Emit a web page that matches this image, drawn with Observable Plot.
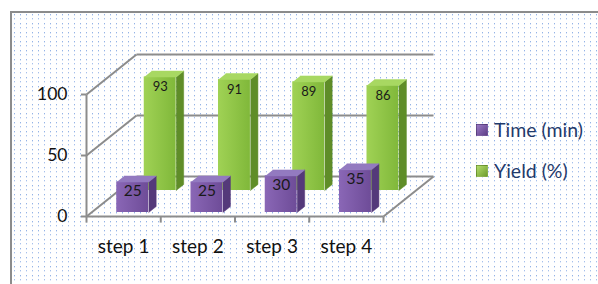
<!DOCTYPE html>
<html>
<head>
<meta charset="utf-8">
<script src="https://cdn.jsdelivr.net/npm/d3@7"></script>
<script src="https://cdn.jsdelivr.net/npm/@observablehq/plot@0.6"></script>
<style>
  html, body { margin: 0; padding: 0; background: #fff; }
  #wrap { position: relative; width: 598px; height: 284px; overflow: hidden; font-family: Lato, "Open Sans", sans-serif; }
  #frame {
    position: absolute; left: 10px; top: 11px; width: 620px; height: 300px;
    border-left: 2px solid #8c8c8c; border-top: 2px solid #8c8c8c;
    background-color: #fff;
    background-image: url("data:image/svg+xml;utf8,<svg xmlns='http://www.w3.org/2000/svg' width='6' height='9'><rect x='2' y='1' width='1' height='1' fill='%2394b3e6'/><rect x='2' y='2' width='1' height='1' fill='%23d6e2f6'/><rect x='2' y='5' width='1' height='1' fill='%23a6c0ec'/><rect x='2' y='6' width='1' height='1' fill='%23dfe8f8'/></svg>");
    background-size: 6px 9px;
  }
  #chart { position: absolute; left: 0; top: 0; }
  .legend { position: absolute; left: 476px; font-size: 19.5px; color: #1f3a6b; display: flex; align-items: center; line-height: 20px; }
  .legend i { display: inline-block; width: 10px; height: 10px; margin-right: 6px; border: 1px solid rgba(0,0,0,0.12); }
</style>
</head>
<body>
<svg width="0" height="0" style="position:absolute">
  <defs>
    <linearGradient id="gFrontP" x1="0" x2="1" y1="0" y2="0">
      <stop offset="0" stop-color="#8a67b6"/>
      <stop offset="1" stop-color="#6e4c98"/>
    </linearGradient>
    <linearGradient id="gFrontG" x1="0" x2="1" y1="0" y2="0">
      <stop offset="0" stop-color="#a0d255"/>
      <stop offset="1" stop-color="#80b83a"/>
    </linearGradient>
  </defs>
</svg>
<div id="wrap">
  <div id="frame"></div>
  <div id="chart"></div>
  <div class="legend" style="top:120px"><i style="background:linear-gradient(135deg,#9a7ac4,#5e3f88)"></i><span id="lg0"></span></div>
  <div class="legend" style="top:161px"><i style="background:linear-gradient(135deg,#b4dd6c,#6f9e2e)"></i><span id="lg1"></span></div>
</div>
<script>
// ---- data ----
const steps = ["step 1", "step 2", "step 3", "step 4"];
const timeMin = [25, 25, 30, 35];
const yieldPct = [93, 91, 89, 86];
const yTicks = [0, 50, 100];
const seriesNames = ["Time (min)", "Yield (%)"];

// ---- 3D projection helpers (depth expressed in data units) ----
const KX = 50 / 74.25;   // depth shift in step units
const KY = 40 / 1.22;    // depth shift in value units
const P = (x, v, z) => ({x: x + z * KX, y: v + z * KY});
const BX0 = 0.34, BX1 = 0.77, DZ = 0.15;

const series = [
  {name: seriesNames[1], values: yieldPct, z0: 0.65, front: "url(#gFrontG)", side: "#5f8d28", top: "#a8d862", fs: 13, dy: 10},
  {name: seriesNames[0], values: timeMin, z0: 0.10, front: "url(#gFrontP)", side: "#54397a", top: "#937ac0", fs: 15.5, dy: 9}
];

// wall / floor segments
const segs = [];
for (const v of yTicks) {
  segs.push([P(0, v, 1), P(steps.length, v, 1)]); // back wall grid
  segs.push([P(0, v, 0), P(0, v, 1)]);            // left wall diagonals
}
segs.push([P(0, 0, 0), P(0, 100, 0)]);              // front vertical axis
segs.push([P(0, 0, 0), P(steps.length, 0, 0)]);     // floor front edge
segs.push([P(steps.length, 0, 0), P(steps.length, 0, 1)]); // floor right edge
const segData = segs.map(([a, b]) => ({x1: a.x, y1: a.y, x2: b.x, y2: b.y}));

const marks = [
  Plot.link(segData, {x1: "x1", y1: "y1", x2: "x2", y2: "y2", stroke: "#8c8c8c", strokeWidth: 2}),
  // x ticks
  Plot.link(d3.range(steps.length + 1), {x1: d => d, x2: d => d, y1: 0, y2: -5, stroke: "#8c8c8c", strokeWidth: 2}),
  // y ticks
  Plot.link(yTicks, {x1: -0.075, x2: 0, y1: d => d, y2: d => d, stroke: "#8c8c8c", strokeWidth: 2}),
  Plot.text(yTicks, {x: 0, y: d => d, text: d => String(d), textAnchor: "end", dx: -19, fontSize: 17.5, fill: "#111"}),
  Plot.text(steps, {x: (d, i) => i + 0.5, y: 0, text: d => d, dy: 30, fontSize: 19, fill: "#111"})
];

for (const s of series) {
  const fronts = [], sides = [], tops = [], labels = [];
  s.values.forEach((v, i) => {
    const a = i + BX0, b = i + BX1, z0 = s.z0, z1 = s.z0 + DZ;
    fronts.push({x1: P(a, 0, z0).x, x2: P(b, 0, z0).x, y1: P(a, 0, z0).y, y2: P(a, v, z0).y});
    [P(b, 0, z0), P(b, 0, z1), P(b, v, z1), P(b, v, z0)].forEach(p => sides.push({id: i, ...p}));
    [P(a, v, z0), P(b, v, z0), P(b, v, z1), P(a, v, z1)].forEach(p => tops.push({id: i, ...p}));
    const c = P((a + b) / 2, v, z0);
    labels.push({x: c.x, y: c.y, t: String(v)});
  });
  marks.push(
    Plot.line(sides, {x: "x", y: "y", z: "id", fill: s.side, stroke: s.side, strokeWidth: 0.5}),
    Plot.rect(fronts, {x1: "x1", x2: "x2", y1: "y1", y2: "y2", fill: s.front}),
    Plot.line(tops, {x: "x", y: "y", z: "id", fill: s.top, stroke: s.top, strokeWidth: 0.5}),
    Plot.text(labels, {x: "x", y: "y", text: "t", dy: s.dy, fontSize: s.fs, fill: "#1a1a1a"})
  );
}

const chart = Plot.plot({
  width: 598,
  height: 284,
  marginLeft: 86,
  marginRight: 215,
  marginTop: 94,
  marginBottom: 68,
  x: {type: "linear", domain: [0, steps.length], axis: null},
  y: {type: "linear", domain: [0, 100], axis: null},
  style: {background: "transparent", fontFamily: "Lato, 'Open Sans', sans-serif", overflow: "visible"},
  marks
});
document.getElementById("chart").appendChild(chart);
document.getElementById("lg0").textContent = seriesNames[0];
document.getElementById("lg1").textContent = seriesNames[1];
</script>
</body>
</html>
